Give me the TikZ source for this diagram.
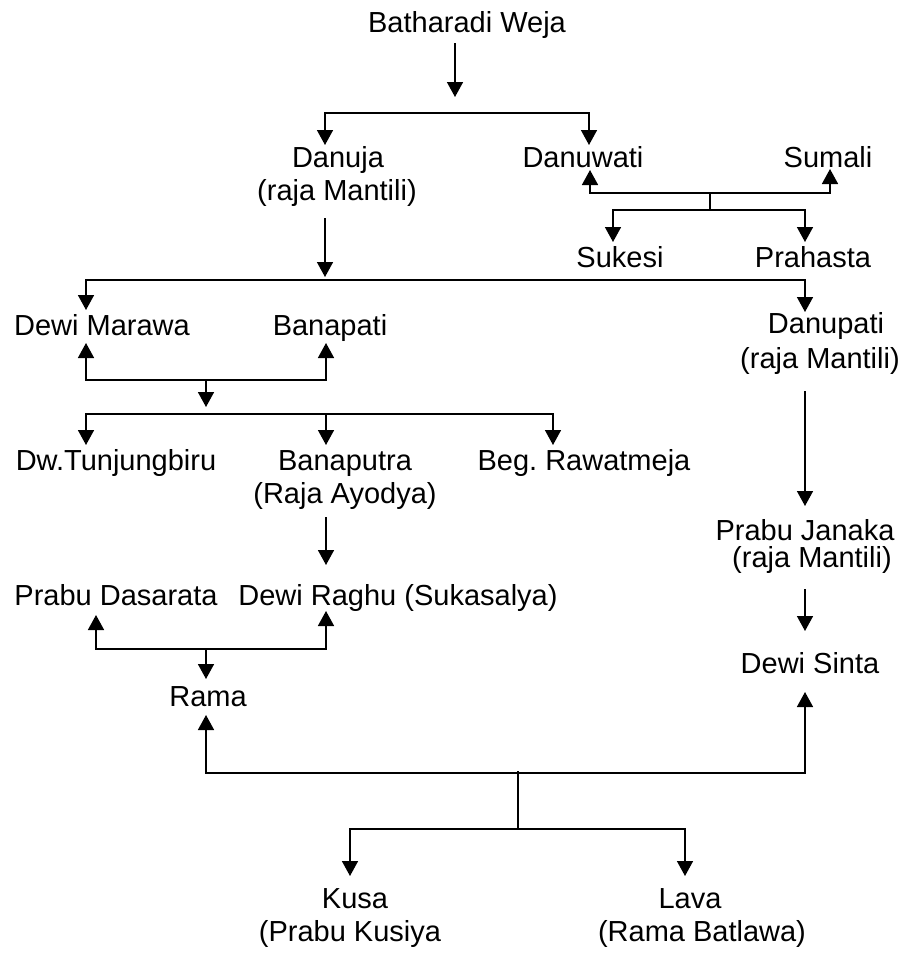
\documentclass[tikz,border=0pt]{standalone}
\usepackage{fontspec}
\setmainfont{Liberation Sans}
\usetikzlibrary{arrows.meta}

\begin{document}
\begin{tikzpicture}[x=1pt,y=-1pt,
  txt/.style={inner sep=0pt, anchor=base, font=\fontsize{29}{33}\selectfont},
  link/.style={line width=1.6pt, line join=miter},
  tipend/.style={link, -{Triangle[width=16pt,length=15pt]}},
  tipboth/.style={link, {Triangle[width=16pt,length=15pt]}-{Triangle[width=16pt,length=15pt]}}]
\useasboundingbox (0,0) rectangle (907,954);

% ---- names ----
\node[txt] (batharadi) at (467,32) {Batharadi Weja};
\node[txt] (danuja) at (338,167) {Danuja};
\node[txt] (danujaB) at (337,200) {(raja Mantili)};
\node[txt] (danuwati) at (583,167) {Danuwati};
\node[txt] (sumali) at (828,167) {Sumali};
\node[txt] (sukesi) at (620,267) {Sukesi};
\node[txt] (prahasta) at (813,267) {Prahasta};
\node[txt] (marawa) at (102,335) {Dewi Marawa};
\node[txt] (banapati) at (330,335) {Banapati};
\node[txt] (danupati) at (826,333) {Danupati};
\node[txt] (danupatiB) at (820,368) {(raja Mantili)};
\node[txt] (tunjung) at (116,470) {Dw.Tunjungbiru};
\node[txt] (banaputra) at (345,470) {Banaputra};
\node[txt] (banaputraB) at (345,503) {(Raja Ayodya)};
\node[txt] (rawatmeja) at (584,470) {Beg.\ Rawatmeja};
\node[txt] (janaka) at (805,540) {Prabu Janaka};
\node[txt] (janakaB) at (812,567) {(raja Mantili)};
\node[txt] (dasarata) at (116,605) {Prabu Dasarata};
\node[txt] (raghu) at (398,605) {Dewi Raghu (Sukasalya)};
\node[txt] (sinta) at (810,673) {Dewi Sinta};
\node[txt] (rama) at (208,706) {Rama};
\node[txt] (kusa) at (355,908) {Kusa};
\node[txt] (kusaB) at (350,941) {(Prabu Kusiya};
\node[txt] (lava) at (690,908) {Lava};
\node[txt] (lavaB) at (702,941) {(Rama Batlawa)};

% ---- junction points ----
\coordinate (bw-out) at (455,43);
\coordinate (bw-in) at (455,97);
\coordinate (danuja-in) at (325,145);
\coordinate (danuwati-in) at (589,145);
\coordinate (danuwati-up) at (590,170);
\coordinate (sumali-up) at (830,169);
\coordinate (sd-mid) at (710,193);
\coordinate (sd-kids) at (710,210);
\coordinate (sukesi-in) at (613,242);
\coordinate (prahasta-in) at (805,242);
\coordinate (danuja-out) at (325,218);
\coordinate (danuja-bar) at (325,277);
\coordinate (marawa-in) at (86,310);
\coordinate (danupati-in) at (805,312);
\coordinate (marawa-up) at (86,343);
\coordinate (banapati-up) at (326,343);
\coordinate (mb-mid) at (206,380);
\coordinate (mb-kids) at (206,407);
\coordinate (tunjung-in) at (86,445);
\coordinate (banaputra-in) at (326,445);
\coordinate (rawatmeja-in) at (553,445);
\coordinate (banaputra-out) at (326,517);
\coordinate (raghu-in) at (326,565);
\coordinate (dasarata-up) at (96,615);
\coordinate (raghu-up) at (326,611);
\coordinate (dr-mid) at (206,649);
\coordinate (rama-in) at (206,679);
\coordinate (danupati-out) at (805,391);
\coordinate (janaka-in) at (805,506);
\coordinate (janaka-out) at (805,589);
\coordinate (sinta-in) at (805,631);
\coordinate (rama-up) at (206,715);
\coordinate (sinta-up) at (805,692);
\coordinate (rs-mid) at (518,771);
\coordinate (rs-kids) at (518,829);
\coordinate (kusa-in) at (350,876);
\coordinate (lava-in) at (685,876);

% ---- connectors ----
\draw[tipend] (bw-out) -- (bw-in);
\draw[tipboth] (danuja-in) |- (danuwati-in |- 0,113) -- (danuwati-in);

\draw[tipboth] (danuwati-up) |- (sd-mid) -| (sumali-up);
\draw[link] (sd-mid) -- (sd-kids);
\draw[tipboth] (sukesi-in) |- (sd-kids) -| (prahasta-in);

\draw[tipend] (danuja-out) -- (danuja-bar);
\draw[tipboth] (marawa-in) |- (danuja-bar |- 0,280) -| (danupati-in);

\draw[tipboth] (marawa-up) |- (mb-mid) -| (banapati-up);
\draw[tipend] (mb-mid) -- (mb-kids);
\draw[tipboth] (tunjung-in) |- (0,414 -| rawatmeja-in) -- (rawatmeja-in);
\draw[tipend] (banaputra-in |- 0,414) -- (banaputra-in);

\draw[tipend] (banaputra-out) -- (raghu-in);
\draw[tipboth] (dasarata-up) |- (dr-mid) -| (raghu-up);
\draw[tipend] (dr-mid) -- (rama-in);

\draw[tipend] (danupati-out) -- (janaka-in);
\draw[tipend] (janaka-out) -- (sinta-in);

\draw[tipboth] (rama-up) |- (rs-mid |- 0,773) -| (sinta-up);
\draw[link] (rs-mid) -- (rs-kids);
\draw[tipboth] (kusa-in) |- (rs-kids) -| (lava-in);
\end{tikzpicture}
\end{document}
